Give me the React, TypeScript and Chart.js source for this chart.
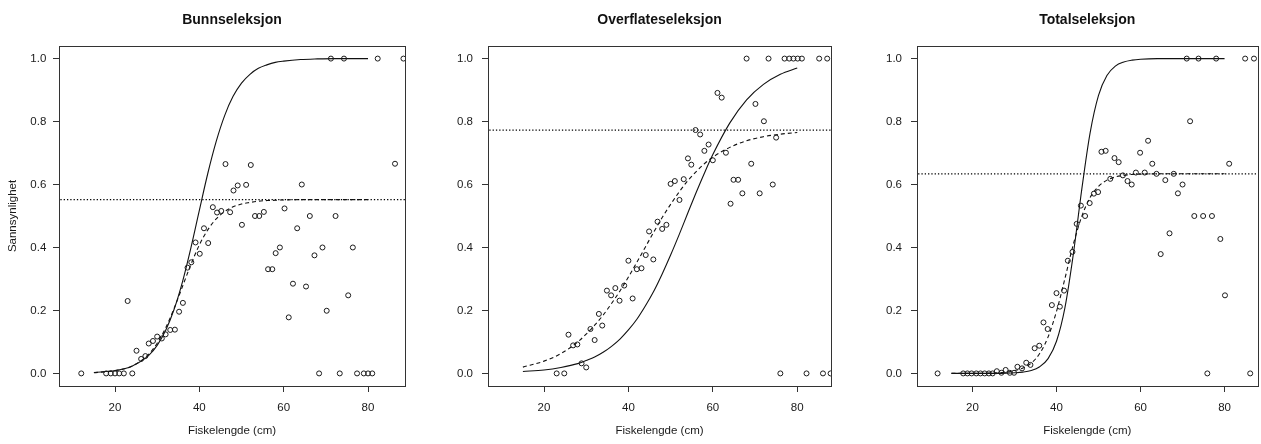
import React, { useEffect, useRef } from "react";
import { Chart, registerables } from "chart.js";

Chart.register(...registerables);

// ---------- data ----------
const xTicks = [20, 40, 60, 80];
const yTicks = [0, 0.2, 0.4, 0.6, 0.8, 1.0];
const ablineExtent = [0, 100];

const curveLength = [15, 20, 24, 28, 30, 32, 34, 36, 38, 40, 42, 44, 46, 48, 50, 52, 54, 56, 58, 60, 64, 68, 72, 76, 80];

// Bunnseleksjon
const bunnLength = [12.0, 17.9, 19.0, 20.0, 21.0, 22.1, 23.0, 24.1, 25.1, 26.2, 27.2, 28.0, 29.0, 30.0, 31.1, 32.0, 33.1, 34.2, 35.2, 36.1, 37.2, 38.1, 39.1, 40.1, 41.1, 42.1, 43.2, 44.2, 45.2, 46.2, 47.3, 48.1, 49.1, 50.1, 51.1, 52.2, 53.2, 54.2, 55.3, 56.3, 57.3, 58.1, 59.1, 60.2, 61.2, 62.2, 63.2, 64.3, 65.3, 66.2, 67.3, 68.4, 69.2, 70.2, 71.2, 72.3, 73.3, 74.3, 75.3, 76.4, 77.4, 79.0, 80.0, 81.0, 82.3, 86.4, 88.4];
const bunnProb = [0, 0, 0, 0, 0, 0, 0.230, 0, 0.072, 0.046, 0.055, 0.095, 0.103, 0.117, 0.111, 0.124, 0.138, 0.139, 0.196, 0.224, 0.336, 0.353, 0.416, 0.380, 0.461, 0.414, 0.528, 0.511, 0.516, 0.665, 0.512, 0.581, 0.597, 0.472, 0.599, 0.662, 0.500, 0.500, 0.513, 0.331, 0.331, 0.382, 0.400, 0.524, 0.178, 0.285, 0.461, 0.600, 0.276, 0.500, 0.375, 0, 0.400, 0.199, 1, 0.500, 0, 1, 0.248, 0.400, 0, 0, 0, 0, 1, 0.666, 1];
const bunnSolid = [0.003, 0.009, 0.023, 0.057, 0.089, 0.136, 0.203, 0.291, 0.399, 0.518, 0.635, 0.737, 0.819, 0.880, 0.922, 0.950, 0.969, 0.980, 0.988, 0.992, 0.997, 0.999, 1.0, 1.0, 1.0];
const bunnDashed = [0.002, 0.009, 0.023, 0.061, 0.096, 0.144, 0.206, 0.276, 0.346, 0.408, 0.456, 0.491, 0.514, 0.529, 0.538, 0.543, 0.547, 0.549, 0.550, 0.551, 0.552, 0.552, 0.552, 0.552, 0.552];
const bunnAsymptote = 0.552;

// Overflateseleksjon
const overLength = [23.0, 24.8, 25.8, 26.9, 27.9, 28.9, 30.0, 31.0, 32.0, 33.0, 33.8, 34.9, 35.9, 36.9, 37.9, 39.0, 40.0, 41.0, 42.0, 43.1, 44.1, 44.9, 45.9, 46.9, 48.0, 49.0, 50.0, 51.0, 52.1, 53.1, 54.1, 54.9, 55.9, 57.0, 58.0, 59.0, 60.0, 61.1, 62.1, 63.1, 64.2, 64.9, 66.0, 67.0, 68.0, 69.1, 70.1, 71.1, 72.1, 73.2, 74.2, 75.0, 76.0, 77.0, 78.1, 79.1, 80.1, 81.1, 82.2, 85.2, 86.1, 87.1, 87.9];
const overProb = [0, 0, 0.123, 0.089, 0.092, 0.032, 0.019, 0.141, 0.106, 0.189, 0.152, 0.263, 0.248, 0.271, 0.231, 0.279, 0.358, 0.238, 0.331, 0.334, 0.376, 0.451, 0.362, 0.482, 0.459, 0.472, 0.602, 0.611, 0.551, 0.617, 0.683, 0.663, 0.773, 0.759, 0.707, 0.727, 0.677, 0.891, 0.876, 0.701, 0.539, 0.615, 0.615, 0.572, 1, 0.666, 0.856, 0.572, 0.801, 1, 0.600, 0.749, 0, 1, 1, 1, 1, 1, 0, 1, 0, 1, 0];
const overSolid = [0.006, 0.011, 0.019, 0.031, 0.041, 0.052, 0.067, 0.086, 0.109, 0.138, 0.172, 0.214, 0.261, 0.316, 0.376, 0.440, 0.507, 0.573, 0.636, 0.695, 0.795, 0.869, 0.918, 0.950, 0.970];
const overDashed = [0.020, 0.039, 0.063, 0.100, 0.125, 0.153, 0.185, 0.222, 0.262, 0.306, 0.353, 0.401, 0.449, 0.495, 0.537, 0.576, 0.611, 0.640, 0.666, 0.687, 0.718, 0.739, 0.752, 0.760, 0.765];
const overAsymptote = 0.773;

// Totalseleksjon
const totalLength = [11.7, 17.8, 18.8, 19.8, 20.9, 21.9, 22.9, 23.9, 24.8, 25.8, 26.9, 27.9, 28.9, 29.9, 30.7, 31.8, 32.8, 33.8, 34.8, 35.9, 36.9, 37.9, 38.9, 40.0, 40.8, 41.8, 42.7, 43.8, 44.8, 45.8, 46.8, 47.9, 48.9, 49.9, 50.7, 51.7, 52.8, 53.8, 54.8, 55.8, 56.9, 57.9, 58.9, 59.9, 61.0, 61.8, 62.8, 63.8, 64.8, 65.9, 66.9, 67.9, 68.9, 70.0, 71.0, 71.8, 72.8, 73.8, 74.9, 75.9, 77.0, 78.0, 79.0, 80.1, 81.1, 84.9, 86.1, 87.0];
const totalProb = [0, 0, 0, 0, 0, 0, 0, 0, 0, 0.007, 0.002, 0.011, 0.002, 0.002, 0.021, 0.016, 0.034, 0.027, 0.080, 0.088, 0.162, 0.141, 0.217, 0.255, 0.212, 0.263, 0.358, 0.386, 0.475, 0.533, 0.500, 0.541, 0.571, 0.576, 0.704, 0.707, 0.618, 0.684, 0.671, 0.629, 0.611, 0.600, 0.638, 0.701, 0.638, 0.739, 0.666, 0.634, 0.379, 0.614, 0.445, 0.634, 0.572, 0.600, 1, 0.801, 0.500, 1, 0.500, 0, 0.500, 1, 0.427, 0.248, 0.666, 1, 0, 1];
const totalSolid = [0, 0, 0, 0.001, 0.002, 0.004, 0.009, 0.021, 0.047, 0.102, 0.208, 0.378, 0.583, 0.764, 0.883, 0.946, 0.976, 0.989, 0.995, 0.998, 1, 1, 1, 1, 1];
const totalDashed = [0, 0, 0.001, 0.004, 0.009, 0.017, 0.033, 0.063, 0.116, 0.197, 0.301, 0.410, 0.498, 0.559, 0.594, 0.614, 0.624, 0.629, 0.632, 0.633, 0.634, 0.634, 0.634, 0.634, 0.634];
const totalAsymptote = 0.634;

// ---------- drawing ----------
const FONT = "'Liberation Sans', Arial, Helvetica, sans-serif";
const INK = "#1a1a1a";

const boxPlugin = {
  id: "plotBox",
  afterDraw(chart: any) {
    const { ctx, chartArea } = chart;
    const l = Math.round(chartArea.left) + 0.5;
    const t = Math.round(chartArea.top) + 0.5;
    const r = Math.round(chartArea.right) + 0.5;
    const b = Math.round(chartArea.bottom) + 0.5;
    ctx.save();
    ctx.strokeStyle = "#333";
    ctx.lineWidth = 1;
    ctx.strokeRect(l, t, r - l, b - t);
    ctx.restore();
  },
};

type PanelProps = {
  title: string;
  length: number[];
  prob: number[];
  solid: number[];
  dashed: number[];
  asym: number;
  xMin: number;
  xMax: number;
  left: number;
  width: number;
  axisWidth: number;
  padRight: number;
  yTickPad: number;
  showYTitle: boolean;
};

function Panel(p: PanelProps) {
  const ref = useRef<HTMLCanvasElement | null>(null);
  useEffect(() => {
    if (!ref.current) return;
    const pts = p.length.map((x, i) => ({ x, y: p.prob[i] }));
    const solid = curveLength.map((x, i) => ({ x, y: p.solid[i] }));
    const dashed = curveLength.map((x, i) => ({ x, y: p.dashed[i] }));
    const dotted = ablineExtent.map((x) => ({ x, y: p.asym }));
    const chart = new Chart(ref.current, {
      type: "scatter",
      data: {
        datasets: [
          {
            data: pts,
            pointStyle: "circle",
            pointRadius: 2.5,
            pointHoverRadius: 2.5,
            borderColor: "#1a1a1a",
            backgroundColor: "rgba(0,0,0,0)",
            borderWidth: 1,
            showLine: false,
            clip: 0,
          },
          {
            data: solid,
            showLine: true,
            pointRadius: 0,
            borderColor: "#111",
            borderWidth: 1.1,
            cubicInterpolationMode: "monotone",
            fill: false,
          },
          {
            data: dashed,
            showLine: true,
            pointRadius: 0,
            borderColor: "#111",
            borderWidth: 1.1,
            borderDash: [4, 3],
            cubicInterpolationMode: "monotone",
            fill: false,
          },
          {
            data: dotted,
            showLine: true,
            pointRadius: 0,
            borderColor: "#000",
            borderWidth: 1.3,
            borderDash: [1.3, 2],
            fill: false,
            clip: 0,
          },
        ] as any,
      },
      options: {
        responsive: false,
        animation: false,
        devicePixelRatio: 1,
        events: [],
        layout: { padding: { left: 0, right: p.padRight, top: 0, bottom: 0 } },
        plugins: {
          legend: { display: false },
          tooltip: { enabled: false },
          title: {
            display: true,
            text: p.title,
            fullSize: false,
            color: "#111",
            font: { family: FONT, size: 14, weight: "bold", lineHeight: 1.2 },
            padding: { top: 11.6, bottom: 17.6 },
          },
        },
        scales: {
          x: {
            type: "linear",
            position: "bottom",
            min: p.xMin,
            max: p.xMax,
            afterBuildTicks: (scale: any) => {
              scale.ticks = xTicks.map((v) => ({ value: v }));
            },
            afterFit: (scale: any) => {
              scale.height = 58;
            },
            grid: {
              display: true,
              drawOnChartArea: false,
              drawTicks: true,
              tickLength: 6,
              color: "#333",
              lineWidth: 1,
            },
            border: { display: false },
            ticks: {
              autoSkip: false,
              maxRotation: 0,
              padding: 9.4,
              color: INK,
              font: { family: FONT, size: 11.5 },
              callback: (v: any) => String(v),
            },
            title: {
              display: true,
              text: "Fiskelengde (cm)",
              color: INK,
              font: { family: FONT, size: 11.5 },
              padding: { top: 0, bottom: 6.1 },
            },
          },
          y: {
            type: "linear",
            position: "left",
            min: -0.04,
            max: 1.04,
            afterBuildTicks: (scale: any) => {
              scale.ticks = yTicks.map((v) => ({ value: v }));
            },
            afterFit: (scale: any) => {
              scale.width = p.axisWidth;
            },
            grid: {
              display: true,
              drawOnChartArea: false,
              drawTicks: true,
              tickLength: 6,
              color: "#333",
              lineWidth: 1,
            },
            border: { display: false },
            ticks: {
              autoSkip: false,
              padding: p.yTickPad,
              color: INK,
              font: { family: FONT, size: 11.5 },
              callback: (v: any) => Number(v).toFixed(1),
            },
            title: {
              display: p.showYTitle,
              text: "Sannsynlighet",
              color: INK,
              font: { family: FONT, size: 11.5 },
              padding: { top: 6.4, bottom: 0 },
            },
          },
        },
      } as any,
      plugins: [boxPlugin],
    });
    return () => chart.destroy();
  }, []);
  return (
    <canvas
      ref={ref}
      width={p.width}
      height={444}
      style={{ position: "absolute", left: p.left, top: 0, width: p.width, height: 444 }}
    />
  );
}

export default function App() {
  return (
    <div
      style={{
        position: "fixed",
        left: 0,
        top: 0,
        width: 1261,
        height: 444,
        background: "#fff",
        overflow: "hidden",
      }}
    >
      <Panel
        title="Bunnseleksjon"
        length={bunnLength}
        prob={bunnProb}
        solid={bunnSolid}
        dashed={bunnDashed}
        asym={bunnAsymptote}
        xMin={6.72}
        xMax={88.77}
        left={0}
        width={420}
        axisWidth={59}
        padRight={15}
        yTickPad={6.7}
        showYTitle={true}
      />
      <Panel
        title="Overflateseleksjon"
        length={overLength}
        prob={overProb}
        solid={overSolid}
        dashed={overDashed}
        asym={overAsymptote}
        xMin={6.73}
        xMax={88.0}
        left={420}
        width={420}
        axisWidth={68}
        padRight={9}
        yTickPad={9}
        showYTitle={false}
      />
      <Panel
        title="Totalseleksjon"
        length={totalLength}
        prob={totalProb}
        solid={totalSolid}
        dashed={totalDashed}
        asym={totalAsymptote}
        xMin={6.8}
        xMax={87.84}
        left={840}
        width={421}
        axisWidth={77}
        padRight={2}
        yTickPad={9}
        showYTitle={false}
      />
    </div>
  );
}
